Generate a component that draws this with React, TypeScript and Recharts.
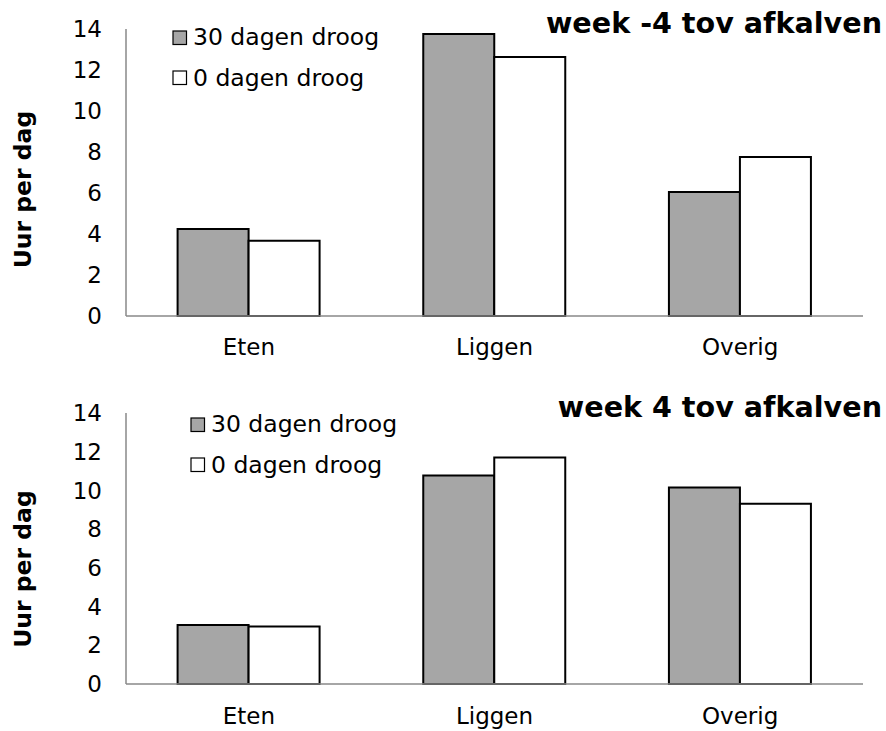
import React from 'react';
import { BarChart, Bar, XAxis, YAxis } from 'recharts';

const categories = ['Eten', 'Liggen', 'Overig'];
const seriesNames = ['30 dagen droog', '0 dagen droog'];
const weekMin4_30 = [4.24, 13.76, 6.05];
const weekMin4_0 = [3.67, 12.63, 7.76];
const week4_30 = [3.05, 10.77, 10.15];
const week4_0 = [2.97, 11.7, 9.31];
const yTicks = [0, 2, 4, 6, 8, 10, 12, 14];
const boundaryTicks = [0, 1, 2, 3];
const titles = ['week -4 tov afkalven', 'week 4 tov afkalven'];
const yLabel = 'Uur per dag';

const topData = categories.map((c, i) => ({ cat: c, d30: weekMin4_30[i], d0: weekMin4_0[i] }));
const bottomData = categories.map((c, i) => ({ cat: c, d30: week4_30[i], d0: week4_0[i] }));

const FONT = '"DejaVu Sans", Verdana, sans-serif';
const AXIS = '#898989';
const GRAY = '#A6A6A6';
const FS = 23;

function Panel({ data, height, margin, xHeight, tickMargin }: any) {
  return (
    <BarChart
      width={886}
      height={height}
      data={data}
      margin={margin}
      barCategoryGap="21%"
      barGap={0}
      style={{ fontFamily: FONT }}
    >
      <XAxis
        xAxisId="cat"
        dataKey="cat"
        height={xHeight}
        tickSize={0}
        tickMargin={tickMargin}
        tickLine={false}
        axisLine={{ stroke: AXIS, strokeWidth: 1.5 }}
        tick={{ fill: '#000', fontSize: FS, fontFamily: FONT }}
        interval={0}
      />
      <XAxis
        xAxisId="grid"
        type="number"
        domain={[0, 3]}
        ticks={boundaryTicks}
        allowDataOverflow
        height={0}
        axisLine={false}
        tick={false}
        tickSize={8}
        tickLine={{ stroke: AXIS, strokeWidth: 1.5 }}
      />
      <YAxis
        width={126}
        domain={[0, 14]}
        ticks={yTicks}
        interval={0}
        tickSize={0}
        tickMargin={24}
        tickLine={false}
        axisLine={{ stroke: AXIS, strokeWidth: 1.5 }}
        tick={{ fill: '#000', fontSize: FS, fontFamily: FONT }}
      />
      <Bar xAxisId="cat" dataKey="d30" name={seriesNames[0]} fill={GRAY} stroke="#000" strokeWidth={2} isAnimationActive={false} />
      <Bar xAxisId="cat" dataKey="d0" name={seriesNames[1]} fill="#fff" stroke="#000" strokeWidth={2} isAnimationActive={false} />
    </BarChart>
  );
}

function LegendBlock({ x, y }: { x: number; y: number }) {
  return (
    <g>
      <rect x={x} y={y} width={13.5} height={13.5} fill={GRAY} stroke="#000" strokeWidth={1.2} />
      <text x={x + 20} y={y + 14} fontSize={23.5} fontFamily={FONT} fill="#000">{seriesNames[0]}</text>
      <rect x={x} y={y + 40} width={13.5} height={13.5} fill="#fff" stroke="#000" strokeWidth={1.2} />
      <text x={x + 20} y={y + 55} fontSize={23.5} fontFamily={FONT} fill="#000">{seriesNames[1]}</text>
    </g>
  );
}

export default function App() {
  return (
    <div style={{ position: 'absolute', left: 0, top: 0, width: 886, height: 731, background: '#fff' }}>
      <div style={{ position: 'absolute', left: 0, top: 0 }}>
        <Panel data={topData} height={370} margin={{ top: 29, right: 23, left: 0, bottom: 0 }} xHeight={54} tickMargin={23} />
      </div>
      <div style={{ position: 'absolute', left: 0, top: 370 }}>
        <Panel data={bottomData} height={361} margin={{ top: 43, right: 23, left: 0, bottom: 0 }} xHeight={47} tickMargin={24} />
      </div>
      <svg width={886} height={731} style={{ position: 'absolute', left: 0, top: 0, pointerEvents: 'none' }}>
        <LegendBlock x={173} y={31} />
        <LegendBlock x={191} y={418} />
        <text x={882} y={33} textAnchor="end" fontSize={28.6} fontWeight="bold" fontFamily={FONT} fill="#000">{titles[0]}</text>
        <text x={882} y={417} textAnchor="end" fontSize={28.6} fontWeight="bold" fontFamily={FONT} fill="#000">{titles[1]}</text>
        <text x={31} y={189.5} transform="rotate(-90, 31, 189.5)" textAnchor="middle" fontSize={23.5} fontWeight="bold" fontFamily={FONT} fill="#000">{yLabel}</text>
        <text x={31} y={569} transform="rotate(-90, 31, 569)" textAnchor="middle" fontSize={23.5} fontWeight="bold" fontFamily={FONT} fill="#000">{yLabel}</text>
      </svg>
    </div>
  );
}
